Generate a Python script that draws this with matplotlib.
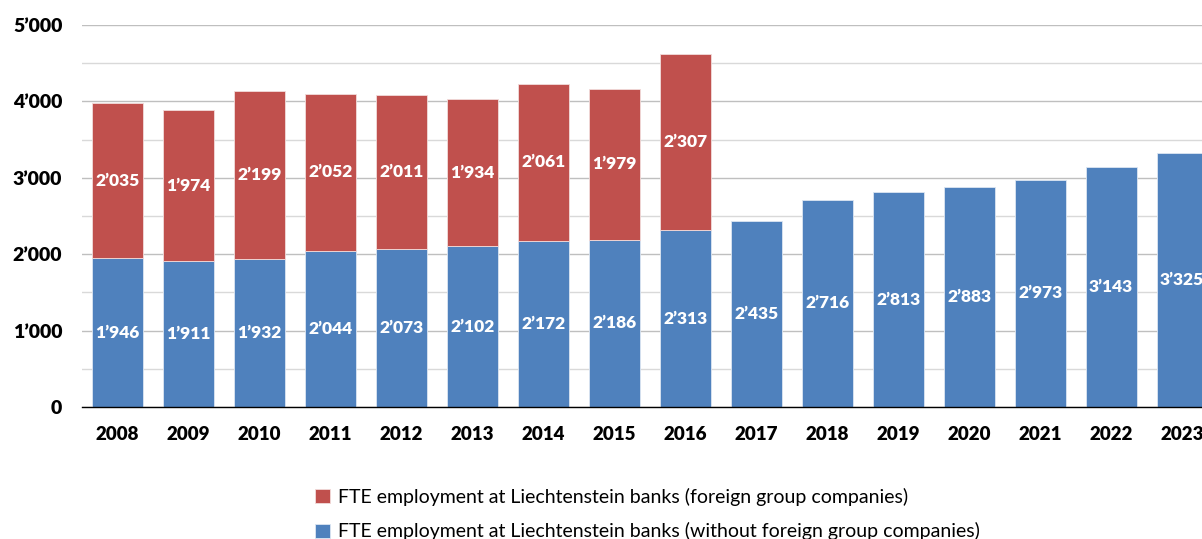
#!/usr/bin/env python3
## stacked bars: FTE employment at Liechtenstein banks

import numpy as np
import matplotlib
matplotlib.use('Agg')
from matplotlib import pyplot as plt
from matplotlib.ticker import MultipleLocator, FuncFormatter

years = [2008, 2009, 2010, 2011, 2012, 2013, 2014, 2015, 2016,
         2017, 2018, 2019, 2020, 2021, 2022, 2023]
domestic = [1946, 1911, 1932, 2044, 2073, 2102, 2172, 2186, 2313,
            2435, 2716, 2813, 2883, 2973, 3143, 3325]
# foreign group companies only reported up to 2016
foreign = [2035, 1974, 2199, 2052, 2011, 1934, 2061, 1979, 2307]

lbl_foreign = 'FTE employment at Liechtenstein banks (foreign group companies)'
lbl_domestic = 'FTE employment at Liechtenstein banks (without foreign group companies)'

blue = '#4F81BD'
red = '#C0504D'

plt.rcParams['font.family'] = ['Lato', 'DejaVu Sans']
plt.rcParams['font.weight'] = 'bold'

def fmt(v, pos=None):
    v = int(round(v))
    return f'{v:,}'.replace(',', '\u2019')

fig = plt.figure(figsize=(12.02, 5.39), dpi=100)
ax = fig.add_axes([0.068, 0.2449, 0.932, 0.7087])

x = np.arange(len(years))
dom = np.array(domestic)
nf = len(foreign)
fgn = np.array(foreign)

ax.bar(x, dom, width=0.72, color=blue, edgecolor='#dce6f2', linewidth=0.6,
       label=lbl_domestic, zorder=3)
ax.bar(x[:nf], fgn, width=0.72, bottom=dom[:nf], color=red,
       edgecolor='#f2dcdb', linewidth=0.6, label=lbl_foreign, zorder=3)

# value labels in the middle of each segment
for i in range(len(x)):
    ax.text(x[i], dom[i] / 2, fmt(dom[i]), ha='center', va='center',
            color='white', fontsize=12.5, fontweight='heavy', zorder=4)
for i in range(nf):
    ax.text(x[i], dom[i] + fgn[i] / 2, fmt(fgn[i]), ha='center',
            va='center', color='white', fontsize=12.5, fontweight='heavy',
            zorder=4)

ax.set_xlim(-0.5, len(years) - 1 + 0.28)
ax.set_ylim(0, 5000)
ax.yaxis.set_major_locator(MultipleLocator(1000))
ax.yaxis.set_minor_locator(MultipleLocator(500))
ax.yaxis.set_major_formatter(FuncFormatter(fmt))
ax.grid(axis='y', which='major', color='#bfbfbf', linewidth=1.0, zorder=0)
ax.grid(axis='y', which='minor', color='#d9d9d9', linewidth=1.0, zorder=0)
ax.set_xticks(x)
ax.set_xticklabels([str(y) for y in years])
ax.tick_params(axis='both', which='both', length=0)
ax.tick_params(axis='y', pad=14, labelsize=14)
ax.tick_params(axis='x', pad=14, labelsize=13.5)
for t in ax.get_xticklabels() + ax.get_yticklabels(which='both'):
    t.set_fontweight('heavy')

for s in ['top', 'right', 'left']:
    ax.spines[s].set_visible(False)
ax.spines['bottom'].set_color('black')
ax.spines['bottom'].set_linewidth(1.0)
ax.spines['bottom'].set_zorder(5)

h, l = ax.get_legend_handles_labels()
fig.legend(h[::-1], l[::-1], loc='upper left', bbox_to_anchor=(0.254, 0.113),
           frameon=False, prop={'size': 14, 'weight': 'normal'},
           handlelength=0.75, handleheight=0.75, handletextpad=0.45,
           labelspacing=0.85, borderpad=0)

fig.savefig('out.png', dpi=100)
